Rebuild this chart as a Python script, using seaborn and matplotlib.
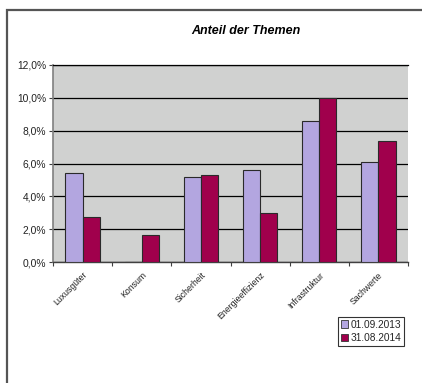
import matplotlib
matplotlib.use("Agg")
import matplotlib.pyplot as plt
from matplotlib.patches import Rectangle
from matplotlib.ticker import FuncFormatter, MultipleLocator
import seaborn as sns
import pandas as pd

# Shares per theme (in percent) at the two reporting dates
themes = ["Luxusgüter", "Konsum", "Sicherheit", "Energieeffizienz", "Infrastruktur", "Sachwerte"]
dates = ["01.09.2013", "31.08.2014"]
share_2013 = [5.4, 0.0, 5.15, 5.6, 8.6, 6.12]
share_2014 = [2.72, 1.67, 5.3, 2.96, 10.0, 7.37]
colors = ["#b3a6e0", "#a0004c"]

df = pd.DataFrame({
    "Thema": themes * 2,
    "Datum": [dates[0]] * len(themes) + [dates[1]] * len(themes),
    "Anteil": share_2013 + share_2014,
})

sns.set_theme(style="white")
plt.rcParams["font.family"] = ["Liberation Sans", "DejaVu Sans"]

W, H = 422, 383
fig = plt.figure(figsize=(W / 100, H / 100), dpi=100)
fig.patch.set_facecolor("white")

# outer chart frame (open to the right and bottom)
fig.add_artist(Rectangle((7 / W, -0.05), 1.2, 1 - 10.5 / H + 0.05,
                         transform=fig.transFigure, fill=False,
                         edgecolor="#555555", linewidth=1.6))

ax = fig.add_axes([53 / W, 1 - 262 / H, (408 - 53) / W, (262 - 65) / H])
ax.set_facecolor("#d0d1d0")

sns.barplot(data=df, x="Thema", y="Anteil", hue="Datum", palette=colors,
            width=0.58, gap=0, edgecolor="#2a2a2a", linewidth=0.8,
            saturation=1, ax=ax, zorder=3)

ax.set_ylim(0, 12)
ax.set_xlim(-0.5, len(themes) - 0.5)
ax.yaxis.set_major_locator(MultipleLocator(2))
ax.yaxis.set_major_formatter(FuncFormatter(lambda v, p: f"{v:.1f}%".replace(".", ",")))
ax.grid(axis="y", color="black", linewidth=0.9, zorder=1)
ax.set_axisbelow(True)
ax.set_xlabel("")
ax.set_ylabel("")

ax.spines["right"].set_visible(False)
ax.spines["top"].set_color("black")
ax.spines["top"].set_linewidth(0.9)
ax.spines["left"].set_color("#808080")
ax.spines["left"].set_linewidth(1.2)
ax.spines["bottom"].set_color("#404040")
ax.spines["bottom"].set_linewidth(1.0)

# category boundary ticks on x axis
ax.set_xticks([i - 0.5 for i in range(len(themes) + 1)], minor=True)
ax.tick_params(axis="x", which="minor", length=3, direction="out", color="#404040", width=0.8, bottom=True)
ax.tick_params(axis="x", which="major", length=0, pad=6, labelsize=6.3, labelcolor="#222222")
ax.tick_params(axis="y", which="major", length=3, direction="out", color="#404040", width=0.8,
               left=True, labelsize=7.4, labelcolor="#222222", pad=2)
for lbl in ax.get_xticklabels():
    lbl.set_rotation(45)
    lbl.set_ha("right")
    lbl.set_rotation_mode("anchor")

fig.text(246 / W, 1 - 31 / H, "Anteil der Themen", ha="center", va="center",
         fontsize=9, fontweight="bold", fontstyle="italic", color="black")

leg = ax.legend(loc="upper left", bbox_to_anchor=(338 / W, 1 - 317 / H),
                bbox_transform=fig.transFigure, frameon=True, fancybox=False,
                fontsize=7.3, handlelength=0.7, handleheight=0.7, handletextpad=0.3,
                borderpad=0.25, labelspacing=0.35, borderaxespad=0)
leg.get_frame().set_edgecolor("black")
leg.get_frame().set_linewidth(0.8)
for h in leg.legend_handles:
    h.set_edgecolor("#333333")
    h.set_linewidth(0.6)

fig.savefig("out.png", dpi=100)
